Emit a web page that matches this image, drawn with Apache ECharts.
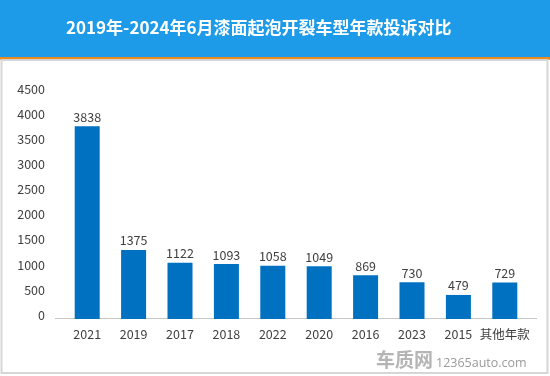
<!DOCTYPE html>
<html>
<head>
<meta charset="utf-8">
<script src="https://cdn.jsdelivr.net/npm/echarts@6/dist/echarts.min.js"></script>
<style>
html,body{margin:0;padding:0;background:#fff;}
#main{width:550px;height:376px;}
</style>
</head>
<body>
<div id="main"></div>
<script>
var categories = ['2021','2019','2017','2018','2022','2020','2016','2023','2015','其他年款'];
var complaints = [3838,1375,1122,1093,1058,1049,869,730,479,729];
var yTicks = {min:0, max:4500, step:500};

var chart = echarts.init(document.getElementById('main'));
chart.setOption({
	backgroundColor:'#fff',
	textStyle:{fontFamily:'"Noto Sans CJK SC","Open Sans",sans-serif'},
	graphic:[
		{type:'rect',shape:{x:0,y:0,width:550,height:57},style:{fill:'#1D9AE8'},z:0},
		{type:'rect',shape:{x:0,y:57,width:550,height:3},style:{fill:'#EE8A22'},z:0},
		{type:'rect',shape:{x:1.5,y:60,width:546,height:313},style:{fill:'none',stroke:'#d6d6d6',lineWidth:2},z:0},
		{type:'line',shape:{x1:55,y1:318.5,x2:537,y2:318.5},style:{stroke:'#c8c8c8',lineWidth:1},z:1},
		{type:'text',left:66,top:19,style:{text:'2019年-2024年6月漆面起泡开裂车型年款投诉对比',fill:'#fff',font:'bold 17px "Noto Sans CJK SC",sans-serif'}},
		{type:'text',left:376,top:350,style:{text:'车质网',fill:'#b5b5b5',font:'bold 19px "Noto Sans CJK SC",sans-serif'}},
		{type:'text',left:436,top:357,style:{text:'12365auto.com',fill:'#9a9a9a',font:'12.5px "Open Sans",sans-serif'}}
	],
	grid:{left:64,right:22,top:93,bottom:57},
	xAxis:{
		type:'category',
		data:categories,
		axisLine:{show:false},
		axisTick:{show:false},
		axisLabel:{color:'#404040',fontSize:12.5,margin:9,interval:0}
	},
	yAxis:{
		type:'value',
		min:yTicks.min,max:yTicks.max,interval:yTicks.step,
		splitLine:{show:false},
		axisLine:{show:false},
		axisTick:{show:false},
		axisLabel:{color:'#404040',fontSize:12.5,margin:19,verticalAlign:'bottom',lineHeight:8,formatter:function(v){return String(v);}}
	},
	series:[{
		type:'bar',
		data:complaints,
		barWidth:25,
		itemStyle:{color:'#0070C0'},
		label:{show:true,position:'top',color:'#404040',fontSize:12.5,distance:3}
	}]
});
</script>
</body>
</html>
